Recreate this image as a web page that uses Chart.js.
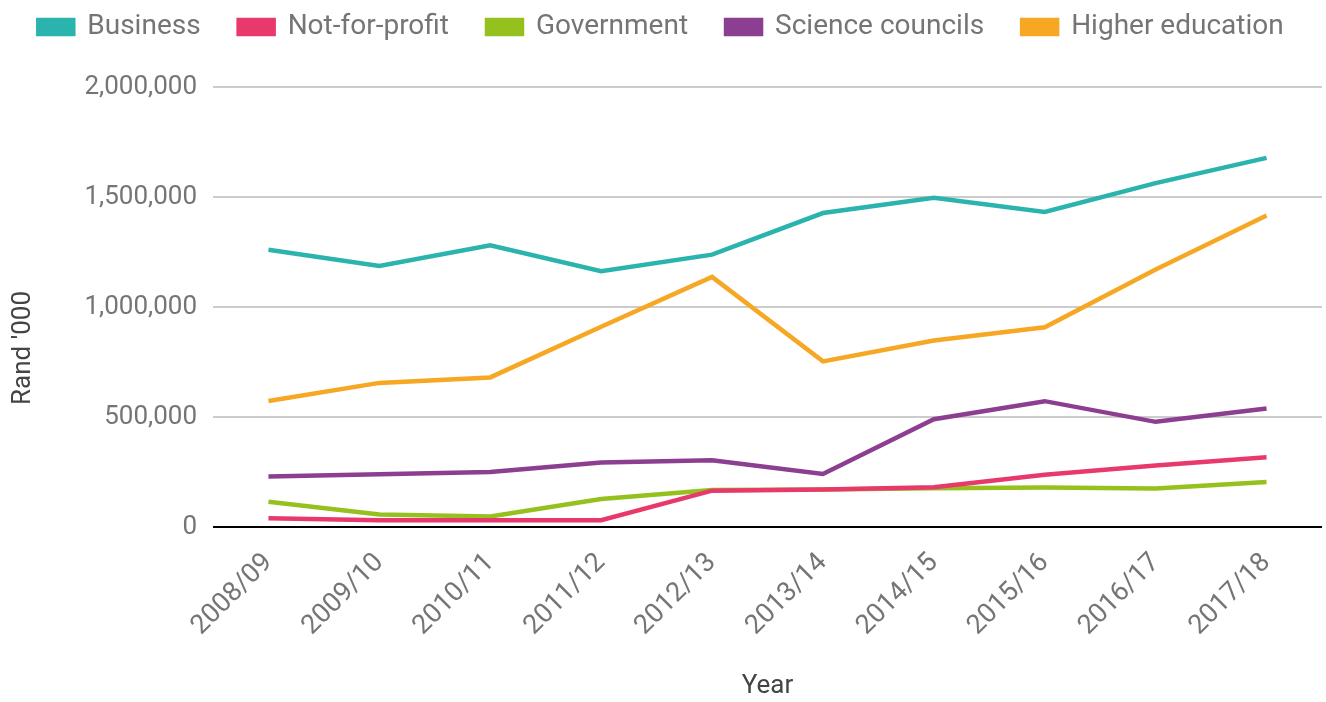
<!DOCTYPE html>
<html>
<head>
<meta charset="utf-8">
<title>R&amp;D expenditure by sector</title>
<script src="https://cdn.jsdelivr.net/npm/chart.js@4.4.1/dist/chart.umd.min.js"></script>
<style>
  html, body { margin: 0; padding: 0; background: #ffffff; }
  #wrap { width: 1326px; height: 702px; }
</style>
</head>
<body>
<div id="wrap"><canvas id="chart" width="1326" height="702"></canvas></div>
<script>
// Financial years on the x axis
const years = ['2008/09', '2009/10', '2010/11', '2011/12', '2012/13',
               '2013/14', '2014/15', '2015/16', '2016/17', '2017/18'];

// Expenditure per sector, Rand '000
const business        = [1260000, 1186000, 1280000, 1163000, 1238000, 1427000, 1497000, 1432000, 1563000, 1678000];
const notForProfit    = [40000, 31000, 31000, 31000, 165000, 170000, 181000, 237000, 280000, 317000];
const government      = [115000, 57000, 48000, 127000, 168000, 170000, 176000, 180000, 175000, 205000];
const scienceCouncils = [230000, 240000, 250000, 293000, 303000, 241000, 490000, 572000, 478000, 539000];
const higherEducation = [573000, 655000, 680000, 910000, 1137000, 753000, 848000, 908000, 1170000, 1416000];

// Value axis ticks
const yTicks = [0, 500000, 1000000, 1500000, 2000000];

const seriesNames = ['Business', 'Not-for-profit', 'Government', 'Science councils', 'Higher education'];
const seriesValues = [business, notForProfit, government, scienceCouncils, higherEducation];
const seriesColors = ['#2bb4ae', '#e8396c', '#95c11f', '#8c3f90', '#f6a724'];

const FONT = 'Roboto, "Noto Sans", sans-serif';
const TICK_COLOR = '#757575';
const TITLE_COLOR = '#444444';

// Keeps the legend band tall enough and lifts its row to the top edge
const legendBand = {
  id: 'legendBand',
  beforeInit(chart) {
    const fit = chart.legend.fit;
    chart.legend.fit = function () {
      fit.call(this);
      this.height = 87;
    };
  },
  afterLayout(chart) {
    chart.legend.top = -25;
  }
};

// Vertical axis title placed beside the tick labels
const sideTitle = {
  id: 'sideTitle',
  afterDraw(chart) {
    const ctx = chart.ctx;
    ctx.save();
    ctx.translate(23, 348);
    ctx.rotate(-Math.PI / 2);
    ctx.font = '26px ' + FONT;
    ctx.fillStyle = TITLE_COLOR;
    ctx.textAlign = 'center';
    ctx.textBaseline = 'middle';
    ctx.fillText("Rand '000", 0, 0);
    ctx.restore();
  }
};

new Chart(document.getElementById('chart'), {
  type: 'line',
  data: {
    labels: years,
    datasets: seriesNames.map((name, i) => ({
      label: name,
      data: seriesValues[i],
      borderColor: seriesColors[i],
      backgroundColor: seriesColors[i],
      borderWidth: 4.5,
      pointRadius: 0,
      pointHoverRadius: 0,
      tension: 0,
      fill: false
    }))
  },
  options: {
    responsive: false,
    animation: false,
    layout: { padding: { left: 0, right: 4, top: 0, bottom: 0 } },
    plugins: {
      legend: {
        position: 'top',
        align: 'center',
        labels: {
          boxWidth: 35,
          boxHeight: 14,
          padding: 38,
          color: TICK_COLOR,
          font: { family: FONT, size: 28 }
        }
      },
      tooltip: { enabled: false }
    },
    scales: {
      x: {
        offset: true,
        grid: { display: false, drawTicks: false },
        border: { display: false },
        ticks: {
          color: TICK_COLOR,
          font: { family: FONT, size: 27 },
          minRotation: 45,
          maxRotation: 45,
          padding: 20,
          autoSkip: false
        },
        title: {
          display: true,
          text: 'Year',
          color: TITLE_COLOR,
          font: { family: FONT, size: 26 },
          padding: { top: 0, bottom: 0 }
        },
        afterFit(scale) { scale.height = 175; }
      },
      y: {
        min: 0,
        max: 2000000,
        afterBuildTicks(scale) {
          scale.ticks = yTicks.map(v => ({ value: v }));
        },
        grid: {
          drawTicks: false,
          lineWidth: 2,
          color: ctx => (ctx.tick && ctx.tick.value === 0 ? '#000000' : '#cccccc')
        },
        border: { display: false },
        ticks: {
          color: TICK_COLOR,
          font: { family: FONT, size: 26 },
          padding: 16,
          callback: v => v.toLocaleString('en-US')
        },
        afterFit(scale) { scale.width = 213; }
      }
    }
  },
  plugins: [legendBand, sideTitle]
});
</script>
</body>
</html>
